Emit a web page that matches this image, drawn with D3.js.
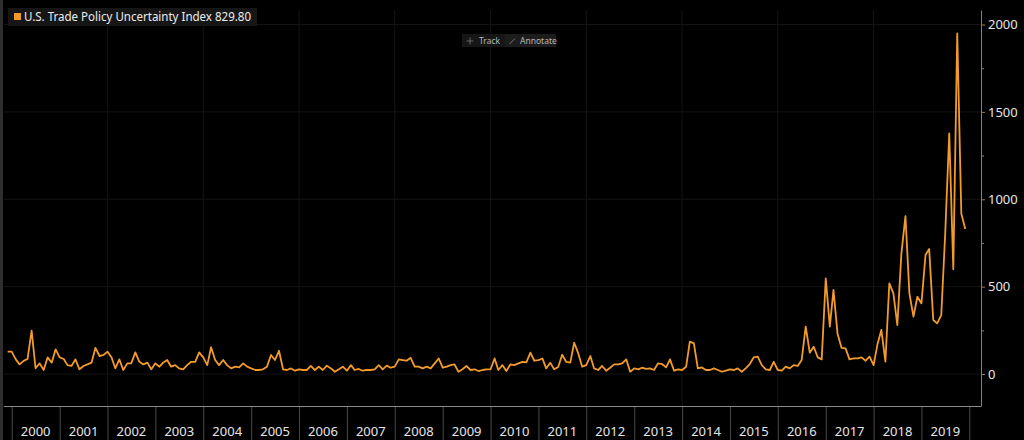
<!DOCTYPE html>
<html>
<head>
<meta charset="utf-8">
<script src="https://cdn.jsdelivr.net/npm/d3@7"></script>
<style>
  html, body { margin: 0; padding: 0; background: #000; }
  svg { display: block; }
</style>
</head>
<body>
<svg id="chart" width="1024" height="440"></svg>
<script>
// monthly index values, first month below
const firstMonth = new Date(1999, 11, 1);
const tpuValues = [
    128, 128, 84, 55, 75, 86, 248, 33, 61, 23, 95, 65, 141, 95, 86, 51, 46, 84, 27, 46,
    55, 65, 150, 103, 109, 128, 95, 33, 84, 23, 61, 61, 124, 70, 55, 65, 27, 61, 42, 65,
    80, 42, 51, 32, 27, 51, 70, 70, 124, 95, 51, 153, 80, 51, 80, 51, 32, 42, 38, 61,
    42, 32, 23, 23, 27, 42, 109, 80, 133, 27, 23, 32, 19, 27, 23, 23, 46, 23, 42, 23,
    48, 32, 13, 27, 42, 19, 51, 23, 29, 19, 23, 23, 27, 51, 27, 48, 36, 42, 84, 80,
    76, 93, 42, 42, 32, 42, 32, 61, 89, 36, 42, 51, 55, 13, 27, 46, 23, 27, 17, 23,
    27, 27, 89, 23, 51, 17, 55, 51, 61, 70, 67, 122, 76, 80, 89, 32, 65, 27, 40, 110,
    70, 65, 179, 118, 42, 51, 103, 32, 23, 46, 19, 36, 55, 55, 61, 84, 13, 32, 27, 36,
    29, 32, 23, 61, 57, 38, 84, 19, 27, 23, 42, 185, 175, 32, 38, 23, 23, 32, 23, 13,
    19, 27, 23, 32, 13, 32, 57, 95, 99, 51, 27, 23, 70, 23, 19, 42, 32, 51, 46, 80,
    271, 122, 156, 95, 84, 547, 271, 481, 230, 150, 147, 84, 90, 90, 95, 76, 99, 51, 175, 252,
    71, 519, 461, 280, 690, 904, 461, 328, 442, 404, 681, 715, 309, 290, 337, 800, 1377, 599, 1949, 919,
    829.8
];
const years = d3.range(2000, 2020);
const majorTicks = [0, 500, 1000, 1500, 2000];
const minorTicks = [250, 750, 1250, 1750];
const seriesName = "U.S. Trade Policy Uncertainty Index";
const toolButtons = ["Track", "Annotate"];

const orange = "#f29b2a";
const fontFamily = "'Noto Sans', 'Open Sans', sans-serif";

const svg = d3.select("#chart");

const data = tpuValues.map((v, i) => ({
    date: d3.timeMonth.offset(firstMonth, i),
    value: v
}));

const plot = { left: 4, right: 981, top: 10, bottom: 406 };

const x = d3.scaleTime()
    .domain([new Date(2000, 0, 1), new Date(2020, 0, 1)])
    .range([11.7, 969.3]);

const y = d3.scaleLinear()
    .domain([-183, 2083])
    .range([plot.bottom, plot.top]);

//left border strip
svg.append("rect")
    .attr("x", 0).attr("y", 0)
    .attr("width", 3).attr("height", 440)
    .attr("fill", "#2e2e2e");

//faint grid lines
svg.append("g")
    .selectAll("line")
    .data(majorTicks)
    .join("line")
    .attr("x1", plot.left).attr("x2", plot.right)
    .attr("y1", d => y(d)).attr("y2", d => y(d))
    .attr("stroke", "#141414");

svg.append("g")
    .selectAll("line")
    .data(years.filter(d => d % 2 === 0 && d > 2000))
    .join("line")
    .attr("x1", d => x(new Date(d, 0, 1))).attr("x2", d => x(new Date(d, 0, 1)))
    .attr("y1", plot.top).attr("y2", plot.bottom)
    .attr("stroke", "#141414");

//bottom axis: year separators and centred labels
const xAxis = svg.append("g")
    .attr("transform", `translate(0, ${plot.bottom})`)
    .call(d3.axisBottom(x)
        .tickValues(years.concat([2020]).map(d => new Date(d, 0, 1)))
        .tickSize(34)
        .tickSizeOuter(0)
        .tickFormat(""));
xAxis.select(".domain").remove();
xAxis.selectAll(".tick line").attr("stroke", "#4a4a4a");

svg.append("line")
    .attr("x1", plot.left).attr("x2", plot.right)
    .attr("y1", plot.bottom + 0.5).attr("y2", plot.bottom + 0.5)
    .attr("stroke", "#8a8a8a");

svg.append("g")
    .selectAll("text")
    .data(years)
    .join("text")
    .attr("x", d => (x(new Date(d, 0, 1)) + x(new Date(d + 1, 0, 1))) / 2)
    .attr("y", 436)
    .attr("text-anchor", "middle")
    .attr("fill", "#e6e6e6")
    .style("font-family", fontFamily)
    .style("font-size", "13px")
    .text(d => d);

//right value axis
const yAxis = svg.append("g")
    .attr("transform", `translate(${plot.right}, 0)`)
    .call(d3.axisRight(y)
        .tickValues(majorTicks)
        .tickFormat(d3.format("d"))
        .tickSize(4)
        .tickSizeOuter(0)
        .tickPadding(3));
yAxis.select(".domain").attr("stroke", "#a07a48");
yAxis.selectAll(".tick line").attr("stroke", "#a07a48");
yAxis.selectAll(".tick text")
    .attr("fill", "#e6e6e6")
    .style("font-family", fontFamily)
    .style("font-size", "13px");

const yMinor = svg.append("g")
    .attr("transform", `translate(${plot.right}, 0)`)
    .call(d3.axisRight(y).tickValues(minorTicks).tickSize(3).tickFormat(""));
yMinor.select(".domain").remove();
yMinor.selectAll(".tick line").attr("stroke", "#a07a48");

//the series line
const line = d3.line()
    .x(d => x(d.date))
    .y(d => y(d.value));

svg.append("path")
    .datum(data)
    .attr("fill", "none")
    .attr("stroke", orange)
    .attr("stroke-width", 1.8)
    .attr("stroke-linejoin", "round")
    .attr("d", line);

//legend box
const last = data[data.length - 1];
const legend = svg.append("g");
legend.append("rect")
    .attr("x", 8).attr("y", 8)
    .attr("width", 249).attr("height", 18)
    .attr("fill", "#161616");
legend.append("rect")
    .attr("x", 14).attr("y", 13)
    .attr("width", 7).attr("height", 7)
    .attr("fill", orange);
legend.append("text")
    .attr("x", 24).attr("y", 21)
    .attr("fill", "#ececec")
    .attr("textLength", 227)
    .attr("lengthAdjust", "spacingAndGlyphs")
    .style("font-family", fontFamily)
    .style("font-size", "12.5px")
    .text(`${seriesName} ${d3.format(".2f")(last.value)}`);

//track / annotate buttons
const tools = svg.append("g");
tools.append("rect")
    .attr("x", 462).attr("y", 34)
    .attr("width", 94).attr("height", 13)
    .attr("fill", "#161616");
tools.append("rect")
    .attr("x", 505).attr("y", 34)
    .attr("width", 51).attr("height", 13)
    .attr("fill", "#1c1c1c");
//crosshair icon
tools.append("path")
    .attr("d", "M470,37.5 V44.5 M466.5,41 H473.5")
    .attr("stroke", "#777").attr("stroke-width", 0.8);
//pencil icon
tools.append("path")
    .attr("d", "M509.5,44 L515,38.5")
    .attr("stroke", "#777").attr("stroke-width", 1);
tools.selectAll("text")
    .data(toolButtons)
    .join("text")
    .attr("x", (d, i) => i === 0 ? 479 : 520)
    .attr("y", 43.5)
    .attr("fill", "#b8b8b8")
    .style("font-family", fontFamily)
    .style("font-size", "8.5px")
    .text(d => d);
</script>
</body>
</html>
